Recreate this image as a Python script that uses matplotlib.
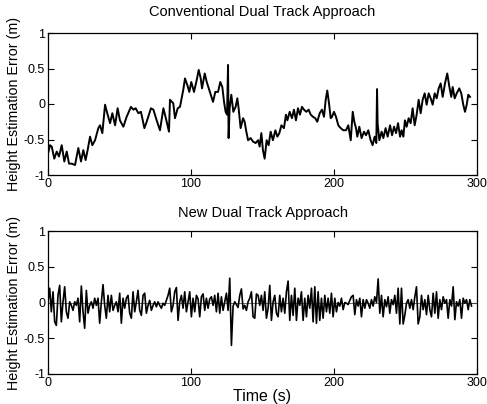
import numpy as np
import matplotlib
matplotlib.use("Agg")
import matplotlib.pyplot as plt

plt.rcParams['font.family'] = ['Liberation Sans', 'DejaVu Sans']
plt.rcParams['axes.unicode_minus'] = False

# conventional approach: time (s) and error (m)
conv_t = [0, 1.4, 2.6, 4.4, 6.1, 7.7, 9.6, 11.4, 13.1, 14.7, 16.6, 18.9, 21.2, 23.1,
          24.7, 26.3, 27.7, 29.4, 31.0, 32.9, 35.2, 36.4, 38.0, 39.9, 41.7, 43.4, 45.0,
          46.9, 48.7, 50.3, 52.7, 55.0, 58.0, 59.7, 61.3, 63.2, 65.0, 67.4, 69.0, 72.0,
          73.7, 76.0, 78.3, 80.7, 83.0, 84.6, 85.3, 87.6, 88.8, 90.7, 92.3, 94.6, 95.8,
          97.7, 98.8, 100.2, 102.1, 103.7, 105.4, 106.8, 107.7, 109.6, 111.0, 112.4,
          113.8, 115.4, 117.0, 118.9, 120.5, 121.9, 123.1, 124.2, 125.2, 125.9, 126.3,
          127.0, 128.2, 129.6, 131.2, 132.4, 133.3, 134.7, 136.4, 137.5, 138.7, 139.9,
          141.7, 143.4, 145.2, 146.9, 148.0, 149.2, 150.3, 151.5, 152.9, 154.3, 155.7,
          157.3, 159.0, 160.4, 161.8, 163.2, 165.0, 166.4, 167.4, 169.0, 170.6, 172.0,
          173.4, 174.8, 176.2, 177.6, 179.0, 180.7, 182.3, 183.7, 185.3, 186.9, 188.3,
          190.0, 191.6, 193.0, 194.2, 195.3, 196.5, 197.7, 198.6, 200.0, 201.4, 203.0,
          204.7, 206.5, 208.4, 210.0, 211.7, 213.1, 214.2, 215.4, 216.3, 217.7, 219.3,
          221.0, 222.4, 224.0, 225.6, 227.0, 228.4, 229.6, 230.1, 230.5, 231.7, 233.3,
          234.5, 236.1, 237.5, 239.2, 240.6, 242.0, 243.4, 244.8, 246.2, 247.3, 248.5,
          249.6, 250.8, 252.2, 253.6, 255.0, 256.4, 257.8, 259.2, 260.6, 262.0, 263.4,
          264.8, 266.2, 267.6, 269.0, 270.4, 271.8, 273.2, 274.6, 276.0, 277.6, 279.2,
          280.7, 282.0, 283.0, 284.4, 285.8, 287.6, 289.0, 290.4, 291.6, 292.8, 293.9,
          295.1]
conv_err = [-0.70, -0.58, -0.60, -0.77, -0.67, -0.74, -0.58, -0.81, -0.67, -0.84, -0.84,
            -0.86, -0.62, -0.81, -0.65, -0.79, -0.65, -0.46, -0.58, -0.51, -0.34, -0.30,
            -0.41, -0.01, -0.15, -0.27, -0.13, -0.30, -0.06, -0.23, -0.32, -0.18, -0.04,
            -0.08, -0.06, -0.13, -0.11, -0.34, -0.25, -0.06, -0.08, -0.23, -0.37, -0.06,
            -0.25, -0.39, 0.06, 0.01, -0.20, -0.06, -0.04, 0.20, 0.36, 0.25, 0.17, 0.31,
            0.17, 0.31, 0.48, 0.36, 0.22, 0.43, 0.31, 0.22, 0.13, 0.03, 0.17, 0.17, 0.31,
            0.24, 0.03, -0.11, -0.15, 0.55, -0.48, -0.06, 0.13, -0.11, -0.04, 0.08, -0.06,
            -0.34, -0.20, -0.25, -0.39, -0.51, -0.48, -0.53, -0.55, -0.51, -0.60, -0.41,
            -0.65, -0.77, -0.51, -0.58, -0.39, -0.51, -0.37, -0.46, -0.41, -0.30, -0.34,
            -0.15, -0.23, -0.11, -0.20, -0.08, -0.23, -0.06, -0.15, -0.04, -0.08, -0.11,
            -0.08, -0.15, -0.18, -0.20, -0.25, -0.13, -0.08, -0.18, 0.06, 0.19, 0.01,
            -0.20, -0.18, -0.11, -0.18, -0.30, -0.34, -0.37, -0.37, -0.30, -0.51, -0.11,
            -0.25, -0.34, -0.46, -0.32, -0.48, -0.39, -0.44, -0.37, -0.51, -0.58, -0.46,
            -0.55, 0.21, -0.27, -0.51, -0.39, -0.48, -0.34, -0.46, -0.30, -0.44, -0.32,
            -0.41, -0.27, -0.46, -0.37, -0.46, -0.23, -0.32, -0.20, -0.27, -0.06, -0.30,
            -0.15, 0.06, -0.13, 0.06, 0.15, -0.01, 0.15, 0.08, -0.01, 0.15, 0.08, 0.22,
            0.29, 0.10, 0.29, 0.43, 0.24, 0.10, 0.24, 0.08, 0.15, 0.22, 0.15, -0.01,
            -0.11, -0.01, 0.13, 0.10]

# new approach: sampled every ~1.17 s
new_dt = 1.166
new_err = [0.01, 0.20, -0.13, 0.15, -0.27, -0.32, 0.10, 0.24, -0.27, 0.01, 0.22, -0.13,
           -0.22, 0.01, -0.04, -0.11, 0.01, -0.04, 0.06, -0.27, 0.23, -0.13, -0.36, 0.17,
           -0.15, -0.04, 0.01, -0.08, 0.06, -0.04, 0.06, -0.29, 0.01, 0.25, -0.04, -0.22,
           0.10, -0.13, 0.10, -0.11, -0.04, 0.01, -0.13, 0.13, -0.29, 0.06, -0.08, 0.06,
           0.10, -0.15, -0.22, 0.15, -0.13, 0.01, 0.17, -0.11, -0.18, 0.10, 0.13, -0.15,
           -0.04, 0.03, -0.11, -0.04, 0.01, -0.06, 0.01, -0.04, -0.08, -0.01, -0.04, 0.03,
           0.10, 0.20, -0.13, -0.04, 0.15, 0.21, -0.25, 0.01, 0.10, -0.08, 0.15, -0.13,
           0.01, 0.15, -0.20,
           0.06, -0.13, 0.10, 0.05, -0.20, 0.08, 0.12, -0.11, 0.06, -0.08, 0.05, 0.08,
           -0.04, 0.10, -0.13, 0.13, -0.15, 0.08, -0.11, 0.01, 0.13, -0.11, 0.34, -0.60,
           -0.05, 0.01, -0.03, -0.07, 0.10, 0.19, -0.09, -0.04, -0.11, 0.01, 0.06, 0.15,
           -0.20, -0.22, 0.12, 0.10, -0.04, 0.10, -0.11, 0.15, -0.22, -0.08, 0.24, -0.25,
           0.01, 0.10, -0.15, -0.20, 0.10, -0.13, 0.06, -0.15, 0.15, 0.30, -0.25, 0.10,
           -0.18, 0.20, -0.25, 0.06, -0.04, 0.15, -0.25, 0.06, -0.20, 0.10, -0.08, 0.20,
           -0.27, 0.22, -0.29, 0.15, -0.25, 0.06, -0.22, 0.10, -0.13, 0.06, -0.15, 0.13,
           -0.20, 0.06,
           -0.13, 0.00, -0.05, 0.06, -0.10, 0.00, -0.01, -0.03, 0.03, 0.08, 0.10, -0.17,
           0.04, -0.05, 0.06, -0.20, 0.04, -0.08, 0.04, -0.01, -0.08, 0.04, -0.05, 0.08,
           0.00, 0.33, -0.15, 0.10, -0.20, 0.04, -0.06, 0.08, -0.15, 0.04, -0.03, 0.10,
           -0.15, 0.20, -0.30, 0.20, -0.30, -0.18, -0.01, 0.04, -0.08, 0.04, -0.10, 0.08,
           0.22, -0.30, -0.20, 0.10, -0.10, 0.04, -0.17, 0.10, -0.10, -0.20, 0.13, -0.15,
           0.15, -0.22, 0.04, -0.10, 0.08, -0.01, 0.04, -0.22, 0.04, -0.05, 0.22, -0.24,
           0.01, -0.05, 0.04, -0.22, 0.06, -0.01, 0.04, -0.10, 0.04, -0.05]
new_t = np.arange(len(new_err)) * new_dt

titles = ['Conventional Dual Track Approach', 'New Dual Track Approach']
xticks = [0, 100, 200, 300]
yticks = [-1, -0.5, 0, 0.5, 1]
ytick_labels = ['-1', '-0.5', '0', '0.5', '1']

W, H = 487, 404
fig = plt.figure(figsize=(W / 100, H / 100), dpi=100)
ax1 = fig.add_axes([48 / W, 1 - 175 / H, 429 / W, 142 / H])
ax2 = fig.add_axes([48 / W, 1 - 374 / H, 429 / W, 143 / H])

ax1.plot(conv_t, conv_err, color='black', lw=1.4)
ax2.axhline(0, color='#555555', lw=0.6)
ax2.plot(new_t, new_err, color='black', lw=1.2)

for ax in [ax1, ax2]:
    ax.set_xlim(0, 300)
    ax.set_ylim(-1, 1)
    ax.set_xticks(xticks)
    ax.set_xticklabels([str(v) for v in xticks])
    ax.set_yticks(yticks)
    ax.set_yticklabels(ytick_labels)
    ax.tick_params(direction='in', top=True, right=True, length=4, width=0.8,
                   labelsize=9, pad=2)
    for s in ax.spines.values():
        s.set_linewidth(0.9)
    ax.set_ylabel('Height Estimation Error (m)', fontsize=10.3, labelpad=2)

ax1.set_title(titles[0], fontsize=10.5, pad=12)
ax2.set_title(titles[1], fontsize=10.5, pad=10)
ax2.set_xlabel('Time (s)', fontsize=11.5, labelpad=0)

fig.savefig('out.png', dpi=100)
